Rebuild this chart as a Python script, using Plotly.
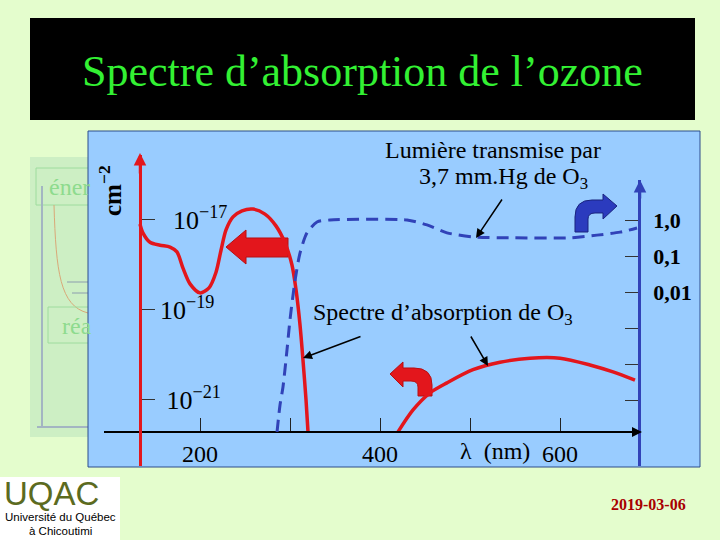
import plotly.graph_objects as go

W, H = 720, 540

# ---------------- data ----------------
hartley_nm = [133.3, 136.7, 144.4, 155.6, 166.7, 174.4, 181.1, 188.9, 200.0, 210.0, 217.8, 223.3,
              228.9, 236.7, 246.7, 258.9, 272.2, 284.4, 294.4, 302.2, 306.7, 311.1, 314.4, 317.8, 320.0]
hartley_sigma = [8.1e-18, 5.1e-18, 3.2e-18, 2.75e-18, 2.5e-18, 1.95e-18, 8.5e-19, 3.8e-19, 2.4e-19,
                 3.1e-19, 6.9e-19, 2.1e-18, 6.0e-18, 1.17e-17, 1.6e-17, 1.75e-17, 1.35e-17, 7.4e-18,
                 3.1e-18, 1.0e-18, 2.8e-19, 4.7e-20, 7.8e-21, 1.0e-21, 1.95e-22]
chappuis_nm = [420.0, 436.7, 455.6, 474.4, 503.3, 533.3, 566.7, 600.0, 633.3, 658.9, 683.3]
chappuis_sigma = [1.95e-22, 6.0e-22, 1.44e-21, 2.4e-21, 4.7e-21, 6.9e-21, 8.5e-21, 8.5e-21,
                  6.0e-21, 4.2e-21, 2.75e-21]
trans_nm = [285.6, 288.9, 292.2, 296.7, 300.0, 305.6, 311.1, 318.9, 330.0, 344.4, 430.0, 452.2,
            474.4, 503.3, 547.8, 611.1, 641.1, 666.7, 685.6]
trans_T = [1.3e-6, 7.3e-6, 2.3e-5, 2.5e-4, 1.7e-3, 0.021, 0.12, 0.44, 0.88, 1.0, 1.0, 0.73,
           0.44, 0.34, 0.32, 0.32, 0.38, 0.46, 0.60]

x_tickvals = [200, 300, 400, 500, 600]
x_ticktext = ["200", "", "400", "", "600"]
sigma_tickvals = [1e-17, 1e-19, 1e-21]
sigma_ticktext = ["\u00a0\u00a010<sup>−17</sup>", "10<sup>−19</sup>", "\u00a010<sup>−21</sup>"]
trans_tickvals = [1, 0.1, 0.01, 1e-3, 1e-4, 1e-5]
trans_ticktext = ["1,0", "0,1", "0,01", "", "", ""]

title_text = "Spectre d’absorption de l’ozone"

# ---------------- helpers ----------------
def px(x):
    return x / W

def py(y):
    return 1 - y / H

def to_path(spec):
    out = []
    for item in spec:
        if item == "Z":
            out.append("Z")
            continue
        cmd, *pts = item
        coords = " ".join(f"{px(pts[i]):.5f},{py(pts[i + 1]):.5f}" for i in range(0, len(pts), 2))
        out.append(f"{cmd} {coords}")
    return " ".join(out)

def rect(x0, y0, x1, y1, fill=None, line=None, lw=1):
    return dict(type="rect", xref="paper", yref="paper", x0=px(x0), x1=px(x1), y0=py(y1), y1=py(y0),
                fillcolor=fill if fill else "rgba(0,0,0,0)",
                line=dict(color=line if line else "rgba(0,0,0,0)", width=lw if line else 0),
                layer="below")

def seg(x0, y0, x1, y1, color, lw=1):
    return dict(type="line", xref="paper", yref="paper", x0=px(x0), x1=px(x1), y0=py(y0), y1=py(y1),
                line=dict(color=color, width=lw), layer="below")

def pathshape(spec, fill, line, lw=1):
    return dict(type="path", xref="paper", yref="paper", path=to_path(spec),
                fillcolor=fill, line=dict(color=line, width=lw), layer="below")

RED = "#E3161C"
BLUE = "#3142B8"
SERIF = "Liberation Serif"

fig = go.Figure()

fig.add_trace(go.Scatter(x=hartley_nm, y=hartley_sigma, mode="lines", xaxis="x", yaxis="y",
                         line=dict(color=RED, width=3.5, shape="spline", smoothing=0.8),
                         showlegend=False, hoverinfo="skip"))
fig.add_trace(go.Scatter(x=chappuis_nm, y=chappuis_sigma, mode="lines", xaxis="x", yaxis="y",
                         line=dict(color=RED, width=3.5, shape="spline", smoothing=0.8),
                         showlegend=False, hoverinfo="skip"))
fig.add_trace(go.Scatter(x=trans_nm, y=trans_T, mode="lines", xaxis="x", yaxis="y2",
                         line=dict(color=BLUE, width=3, dash="12px,7px", shape="spline", smoothing=0.7),
                         showlegend=False, hoverinfo="skip"))

shapes = [
    rect(30, 18, 695, 120, fill="black"),
    # faded background slide panel
    rect(30, 157, 100, 437, fill="#CDEFC4"),
    rect(36, 168, 100, 205, line="#9EDC9E"),
    seg(42, 186, 42, 427, "#A3B5C2", 2),
    seg(37, 427, 100, 427, "#A3B5C2", 2),
    seg(67, 282, 100, 282, "#8C9DAE", 1),
    seg(72, 293, 100, 293, "#8C9DAE", 1),
    pathshape([("M", 54, 205), ("C", 56, 272, 60, 306, 88, 313), ("L", 100, 313)],
              "rgba(0,0,0,0)", "#D9A878", 1),
    rect(48, 307, 100, 343, line="#9EDC9E"),
    # blue chart panel
    rect(88, 131, 700, 467, fill="#99CCFF", line="#2D4C8C", lw=1),
    # red block arrow (left)
    pathshape([("M", 226, 247), ("L", 246, 230), ("L", 246, 238), ("L", 288, 238), ("L", 288, 257),
               ("L", 246, 257), ("L", 246, 264), "Z"], RED, "#B80E12", 1),
    # red bent arrow
    pathshape([("M", 390, 374), ("L", 403, 362), ("L", 403, 368), ("L", 414, 368),
               ("Q", 432, 368, 432, 385), ("L", 432, 396), ("L", 418, 396), ("L", 418, 387),
               ("Q", 418, 381, 411, 381), ("L", 403, 381), ("L", 403, 387), "Z"], RED, "#B80E12", 1),
    # blue bent arrow
    pathshape([("M", 617, 206), ("L", 603, 194), ("L", 603, 200), ("L", 592, 200),
               ("Q", 575, 200, 575, 217), ("L", 575, 232), ("L", 588, 232), ("L", 588, 219),
               ("Q", 588, 213, 595, 213), ("L", 603, 213), ("L", 603, 219), "Z"], "#2B3BBE", "#1A237E", 1),
    # logo box
    rect(0, 477, 120, 540, fill="white"),
]

def txt(x, y, text, size, color="black", family=SERIF, xanchor="center", weight="normal", angle=0):
    return dict(x=px(x), y=py(y), xref="paper", yref="paper", text=text, showarrow=False,
                xanchor=xanchor, yanchor="middle", textangle=angle,
                font=dict(family=family, size=size, color=color, weight=weight))

def arrow(xt, yt, xs, ys, color="black", width=1.5, head=2, size=1.2):
    return dict(x=px(xt), y=py(yt), xref="paper", yref="paper", ax=xs - xt, ay=ys - yt,
                axref="pixel", ayref="pixel", text="", showarrow=True, arrowhead=head,
                arrowsize=size, arrowwidth=width, arrowcolor=color)

annotations = [
    txt(362, 72, title_text, 44, color="#33F133"),
    txt(47, 187, "éner", 24, color="#8EDB8E", xanchor="left"),
    txt(60, 326, "réa", 24, color="#8EDB8E", xanchor="left"),
    txt(493, 150, "Lumière transmise par", 24),
    txt(503, 178, "3,7 mm.Hg de O<sub>3</sub>", 24),
    txt(443, 314, "Spectre d’absorption de O<sub>3</sub>", 24),
    txt(110, 191, "cm<sup>−2</sup>", 25, weight="bold", angle=-90),
    txt(495, 451, "λ  (nm)", 24),
    txt(648, 504, "2019-03-06", 16, color="#A80000", weight="bold"),
    txt(52, 493, "UQAC", 33, color="#5C6B1F", family="Liberation Sans"),
    txt(60, 517, "Université du Québec", 11.5, family="Liberation Sans"),
    txt(60, 531, "à Chicoutimi", 11.5, family="Liberation Sans"),
    # arrows
    arrow(476, 238, 503, 198),
    arrow(303, 358, 362, 336),
    arrow(488, 366, 470, 335),
    # axis arrowheads
    arrow(140, 153, 140, 175, color=RED, width=2.5, head=2, size=1),
    arrow(640, 180, 640, 200, color=BLUE, width=2.5, head=2, size=1),
    arrow(642, 432, 620, 432, color="black", width=2, head=2, size=1),
]

fig.update_layout(
    width=W, height=H,
    margin=dict(l=0, r=0, t=0, b=0),
    paper_bgcolor="#E4FDCD",
    plot_bgcolor="rgba(0,0,0,0)",
    shapes=shapes,
    annotations=annotations,
    showlegend=False,
    xaxis=dict(domain=[104 / W, 640 / W], range=[93.33, 688.89], anchor="free", position=py(432),
               showline=True, linecolor="black", linewidth=2, ticks="inside", ticklen=13,
               tickwidth=1.2, tickcolor="#222", tickvals=x_tickvals, ticktext=x_ticktext,
               ticklabelstandoff=0,
               tickfont=dict(family=SERIF, size=24, color="black"), showgrid=False, zeroline=False),
    yaxis=dict(type="log", domain=[py(466), py(155)], range=[-22.467, -15.556], anchor="free",
               position=140 / W, side="right", showline=True, linecolor=RED, linewidth=2.5,
               ticks="outside", ticklen=13, tickwidth=1.2, tickcolor="#333",
               tickvals=sigma_tickvals, ticktext=sigma_ticktext, ticklabelstandoff=0,
               tickfont=dict(family=SERIF, size=26, color="black"), showgrid=False, zeroline=False),
    yaxis2=dict(type="log", domain=[py(466), py(180)], range=[-6.833, 1.111], anchor="free",
                position=639 / W, side="right", showline=True, linecolor=BLUE, linewidth=2.5,
                ticks="inside", ticklen=13, tickwidth=1.2, tickcolor="#333",
                tickvals=trans_tickvals, ticktext=trans_ticktext, ticklabelstandoff=8,
                tickfont=dict(family=SERIF, size=22, color="black", weight="bold"),
                showgrid=False, zeroline=False),
)

fig.write_html("out.html", config={"displayModeBar": False},
               post_script="document.body.style.margin='0';document.body.style.overflow='hidden';")
